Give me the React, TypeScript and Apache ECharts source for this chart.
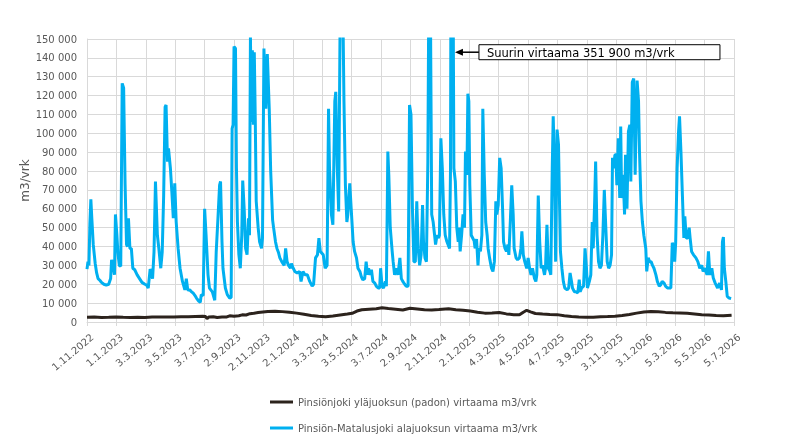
import React, { useEffect, useRef } from 'react';
import * as echarts from 'echarts';

// x values are days counted from 1.11.2022
const X_TICKS = ['1.11.2022', '1.1.2023', '3.3.2023', '3.5.2023', '3.7.2023', '2.9.2023', '2.11.2023', '2.1.2024', '3.3.2024', '3.5.2024', '3.7.2024', '2.9.2024', '2.11.2024', '2.1.2025', '4.3.2025', '4.5.2025', '4.7.2025', '3.9.2025', '3.11.2025', '3.1.2026', '5.3.2026', '5.5.2026', '5.7.2026'];
const X_STEP = 61;
const X_MAX = 1342;

const Y_MAX = 150000;
const Y_STEP = 10000;

const UPPER_NAME = 'Pinsiönjoki yläjuoksun (padon) virtaama m3/vrk';
const LOWER_NAME = 'Pinsiön-Matalusjoki alajuoksun virtaama m3/vrk';
const ANNOTATION = 'Suurin virtaama 351 900 m3/vrk';
const PEAK_DAY = 757;
const ARROW_LEVEL = 143000;

// [day, m3/vrk]
const upperFlow: [number, number][] = [
  [0, 2500], [15, 2600], [30, 2400], [45, 2500], [60, 2700], [75, 2500], [90, 2400], [105, 2500], [120, 2400], [135, 2600],
  [150, 2600], [165, 2700], [180, 2700], [195, 2800], [210, 2800], [225, 2900], [240, 3000], [246, 2900], [249, 1800], [253, 2700],
  [262, 2800], [270, 2400], [280, 2600], [290, 2700], [296, 3300], [305, 3000], [315, 3300], [322, 3800], [330, 3700], [338, 4400],
  [346, 4600], [355, 5000], [365, 5300], [375, 5600], [390, 5700], [405, 5500], [420, 5200], [435, 4700], [450, 4100], [465, 3500],
  [480, 3000], [495, 2800], [510, 3200], [525, 3700], [540, 4200], [550, 4600], [560, 5800], [570, 6500], [585, 6800], [600, 7000],
  [612, 7500], [625, 7100], [640, 6800], [655, 6400], [670, 7300], [685, 6900], [700, 6500], [715, 6400], [730, 6600], [750, 7000],
  [765, 6500], [780, 6200], [795, 5800], [810, 5200], [825, 4700], [840, 4800], [855, 5000], [870, 4300], [885, 3900], [897, 3800],
  [905, 5200], [912, 6200], [920, 5400], [930, 4500], [945, 4200], [960, 4000], [975, 3900], [990, 3300], [1005, 2900], [1020, 2600],
  [1035, 2500], [1050, 2500], [1065, 2800], [1080, 2900], [1095, 3100], [1110, 3500], [1125, 4000], [1140, 4700], [1155, 5300], [1170, 5600],
  [1185, 5400], [1200, 5100], [1215, 4900], [1230, 4800], [1245, 4600], [1260, 4300], [1275, 3900], [1290, 3700], [1305, 3400], [1320, 3300],
  [1337, 3600],
];

// [day, m3/vrk]
const lowerFlow: [number, number][] = [
  [0, 28000], [2, 32000], [4, 30000], [6, 52000], [8, 65000], [10, 55000], [13, 41000], [17, 31000], [20, 26000], [23, 23000],
  [27, 22000], [30, 21000], [35, 20000], [40, 19500], [45, 20000], [49, 23000], [51, 33000], [53, 30000], [55, 28500], [57, 25000],
  [59, 57000], [62, 46000], [64, 37000], [67, 30000], [70, 29500], [73, 126500], [76, 124000], [79, 73000], [82, 41000], [84, 40000],
  [86, 55000], [89, 39000], [92, 39000], [95, 28500], [99, 27700], [104, 25000], [109, 23000], [114, 21000], [120, 20000], [124, 19500],
  [127, 18000], [131, 28000], [133, 27000], [136, 23000], [139, 37000], [142, 74500], [146, 46000], [149, 39000], [153, 28500], [156, 37000],
  [159, 67000], [162, 114000], [164, 115000], [167, 85000], [169, 92000], [173, 81500], [176, 69000], [179, 55000], [182, 73500], [185, 53000],
  [189, 39000], [193, 28500], [198, 21500], [203, 17000], [206, 23000], [209, 17000], [213, 17000], [217, 16000], [220, 15400], [224, 14000],
  [227, 12700], [232, 11000], [235, 10500], [237, 14500], [241, 14000], [244, 60000], [247, 46000], [251, 25000], [254, 18000], [260, 16000],
  [265, 11500], [268, 37000], [272, 57000], [275, 72500], [277, 74500], [280, 42500], [282, 28500], [287, 18000], [291, 14500], [296, 12700],
  [299, 13000], [301, 102500], [303, 104500], [305, 146000], [308, 145000], [310, 81500], [312, 53000], [315, 35700], [318, 28500], [321, 46000],
  [323, 75000], [326, 60000], [329, 39000], [332, 35700], [335, 55000], [337, 46000], [339, 151000], [341, 106000], [343, 144000], [345, 104500],
  [347, 143000], [349, 108000], [351, 64000], [355, 50000], [358, 42500], [362, 39000], [364, 44500], [367, 145000], [371, 113000], [374, 142000],
  [378, 113000], [381, 80000], [385, 54000], [387, 50000], [391, 42500], [394, 39000], [397, 37000], [400, 34000], [404, 32000], [409, 30000],
  [412, 39000], [415, 32000], [418, 30000], [422, 28500], [424, 31000], [427, 29000], [431, 26800], [436, 26000], [441, 26800], [444, 21500],
  [448, 26800], [452, 25000], [457, 25000], [462, 21500], [467, 19000], [470, 20000], [474, 34000], [478, 35600], [481, 44500], [484, 37400],
  [490, 35600], [494, 28500], [498, 30000], [501, 113000], [503, 81500], [507, 57000], [510, 51500], [514, 117000], [516, 122000], [519, 83000],
  [522, 58600], [525, 160000], [528, 175000], [531, 160000], [533, 117000], [536, 72500], [539, 53000], [541, 57000], [545, 73500], [548, 60000],
  [552, 42500], [555, 37400], [559, 34000], [562, 28500], [566, 26800], [569, 24000], [572, 22400], [576, 23000], [579, 32000], [582, 25000],
  [584, 28500], [587, 25000], [590, 27700], [593, 21500], [597, 20600], [600, 19000], [604, 18000], [607, 18000], [609, 28500], [612, 19000],
  [615, 18000], [619, 21500], [621, 19000], [624, 90400], [626, 78000], [629, 50000], [633, 37400], [635, 32000], [638, 25000], [642, 28500],
  [645, 25000], [649, 34000], [652, 23000], [655, 21500], [659, 20000], [662, 19000], [666, 19000], [669, 115000], [672, 110000], [675, 60000],
  [678, 32000], [681, 32000], [684, 64000], [687, 39000], [690, 30000], [693, 35600], [696, 62000], [698, 42500], [701, 34000], [704, 32000],
  [707, 85000], [709, 175000], [711, 230000], [713, 140000], [715, 57000], [718, 53000], [721, 46000], [723, 41000], [726, 46000], [729, 44500],
  [731, 46000], [734, 97400], [737, 81500], [740, 57000], [743, 46000], [746, 43000], [749, 41000], [752, 39000], [754, 81500], [755, 200000],
  [757, 351900], [759, 200000], [761, 81500], [764, 74500], [767, 50000], [770, 42500], [772, 50000], [774, 37400], [777, 46000], [780, 57000],
  [783, 50000], [785, 90400], [788, 78000], [790, 121000], [792, 117000], [794, 72500], [797, 46000], [800, 44500], [803, 43000], [805, 39000],
  [808, 44000], [811, 30000], [813, 39000], [816, 37400], [819, 46000], [821, 113000], [824, 78000], [827, 53000], [830, 46000], [832, 39000],
  [835, 34000], [839, 28500], [842, 26800], [845, 32000], [848, 64000], [850, 57000], [853, 62000], [856, 87000], [859, 81500], [862, 60000],
  [864, 42500], [867, 39000], [870, 37400], [873, 41000], [875, 35600], [878, 53000], [881, 72500], [884, 57000], [886, 39000], [890, 34000],
  [893, 33000], [897, 34000], [900, 39000], [902, 48000], [905, 35600], [908, 32000], [912, 28500], [915, 34000], [918, 28500], [921, 25000],
  [924, 28500], [928, 23300], [931, 21500], [933, 25000], [936, 67000], [939, 42500], [942, 28500], [945, 30000], [949, 25000], [951, 28500],
  [954, 51500], [957, 28500], [960, 27000], [962, 25000], [965, 81500], [967, 109000], [970, 78000], [972, 32000], [975, 102000], [978, 94000],
  [980, 64000], [982, 37400], [985, 28500], [988, 21500], [991, 18000], [996, 17000], [999, 18000], [1002, 26000], [1005, 21500], [1007, 18000],
  [1011, 16000], [1014, 16000], [1018, 15400], [1021, 22400], [1023, 16000], [1026, 18000], [1030, 19000], [1033, 39000], [1036, 28500], [1038, 18000],
  [1042, 21500], [1045, 25000], [1048, 53000], [1050, 39000], [1053, 64000], [1055, 85000], [1058, 46000], [1061, 32000], [1064, 28500], [1067, 30000],
  [1070, 46000], [1073, 70000], [1075, 57000], [1079, 32000], [1082, 28500], [1085, 30000], [1088, 35600], [1090, 87000], [1092, 81500], [1095, 88600],
  [1097, 88600], [1099, 72500], [1102, 97400], [1105, 65700], [1107, 103600], [1109, 65700], [1112, 78000], [1115, 57000], [1117, 88600], [1120, 60000],
  [1123, 101000], [1126, 104500], [1128, 74500], [1131, 127000], [1134, 129000], [1137, 78000], [1139, 106000], [1141, 128000], [1144, 117000], [1146, 90000],
  [1149, 64000], [1152, 53000], [1155, 46000], [1159, 39000], [1161, 26800], [1164, 34000], [1167, 32000], [1170, 32000], [1173, 30000], [1176, 28500],
  [1180, 25000], [1183, 21500], [1187, 19000], [1190, 19700], [1193, 21500], [1197, 20600], [1200, 19000], [1204, 18000], [1211, 18000], [1214, 42000],
  [1217, 40000], [1219, 32000], [1221, 42000], [1224, 81500], [1227, 101000], [1229, 109000], [1232, 90000], [1235, 67000], [1238, 44500], [1240, 56000],
  [1243, 44500], [1246, 44500], [1249, 50000], [1251, 44500], [1254, 37400], [1258, 35600], [1263, 34000], [1267, 32000], [1271, 28500], [1275, 30000],
  [1278, 26800], [1282, 28500], [1286, 25000], [1289, 37400], [1292, 25000], [1296, 28500], [1299, 23300], [1303, 20600], [1308, 18000], [1312, 20600],
  [1316, 17000], [1318, 42500], [1320, 45000], [1322, 28500], [1325, 21500], [1328, 13600], [1332, 12700], [1336, 12400],
];

const FONT = '"DejaVu Sans", Verdana, sans-serif';
const GRID_COLOR = '#d9d9d9';
const TEXT_COLOR = '#595959';
const LABEL_ANGLE = 40;

const fmtThousands = (v: number) => String(v).replace(/\B(?=(\d{3})+(?!\d))/g, ' ');

export default function App() {
  const ref = useRef<HTMLDivElement>(null);

  useEffect(() => {
    if (!ref.current) return;
    const chart = echarts.init(ref.current, null, { renderer: 'svg' });
    chart.setOption({
      animation: false,
      textStyle: { fontFamily: FONT },
      grid: { left: 87, right: 67, top: 39, bottom: 123 },
      legend: {
        orient: 'vertical',
        left: 270,
        top: 397,
        padding: 0,
        itemGap: 16,
        itemWidth: 23,
        itemHeight: 3,
        icon: 'rect',
        textStyle: { color: TEXT_COLOR, fontSize: 10, fontFamily: FONT },
        data: [UPPER_NAME, LOWER_NAME],
      },
      xAxis: {
        type: 'value',
        min: 0,
        max: X_MAX,
        interval: X_STEP,
        axisLine: { show: true, lineStyle: { color: GRID_COLOR } },
        axisTick: { show: true, length: 4, lineStyle: { color: GRID_COLOR } },
        splitLine: { show: true, lineStyle: { color: GRID_COLOR, width: 1 } },
        axisLabel: { show: false },
      },
      yAxis: {
        type: 'value',
        min: 0,
        max: Y_MAX,
        interval: Y_STEP,
        name: 'm3/vrk',
        nameLocation: 'middle',
        nameGap: 56,
        nameMoveOverlap: false,
        nameTextStyle: { color: TEXT_COLOR, fontSize: 12, fontFamily: FONT },
        axisLine: { show: true, lineStyle: { color: GRID_COLOR } },
        axisTick: { show: false },
        splitLine: { show: true, lineStyle: { color: GRID_COLOR, width: 1 } },
        axisLabel: {
          color: TEXT_COLOR,
          fontSize: 10,
          margin: 10,
          fontFamily: FONT,
          formatter: (v: number) => fmtThousands(v),
        },
      },
      series: [
        {
          name: UPPER_NAME,
          type: 'line',
          data: upperFlow,
          showSymbol: false,
          symbol: 'none',
          color: '#2c231d',
          lineStyle: { color: '#2c231d', width: 3 },
          clip: true,
        },
        {
          name: LOWER_NAME,
          type: 'line',
          data: lowerFlow,
          showSymbol: false,
          symbol: 'none',
          color: '#00b0f0',
          lineStyle: { color: '#00b0f0', width: 3 },
          clip: true,
        },
      ],
    });

    const zeroY = chart.convertToPixel({ yAxisIndex: 0 }, 0) as number;
    const tickLabels = X_TICKS.map((label, i) => {
      const x = chart.convertToPixel({ xAxisIndex: 0 }, i * X_STEP) as number;
      return {
        type: 'text',
        x: x + 2,
        y: zeroY + 10,
        rotation: (LABEL_ANGLE * Math.PI) / 180,
        silent: true,
        style: {
          text: label,
          fill: TEXT_COLOR,
          fontSize: 10,
          fontFamily: FONT,
          align: 'right',
          verticalAlign: 'top',
        },
      };
    });

    const tip = chart.convertToPixel({ xAxisIndex: 0, yAxisIndex: 0 }, [PEAK_DAY, ARROW_LEVEL]) as number[];
    const tipX = tip[0] + 3;
    const tipY = tip[1];
    const boxLeft = tipX + 24;
    chart.setOption({
      graphic: [
        ...tickLabels,
        {
          type: 'line',
          shape: { x1: tipX + 6, y1: tipY, x2: boxLeft, y2: tipY },
          style: { stroke: '#000', lineWidth: 1.5 },
          z: 100,
        },
        {
          type: 'polygon',
          shape: { points: [[tipX, tipY], [tipX + 8, tipY - 3.5], [tipX + 8, tipY + 3.5]] },
          style: { fill: '#000' },
          z: 100,
        },
        {
          type: 'rect',
          shape: { x: boxLeft, y: tipY - 7.5, width: 241, height: 15 },
          style: { fill: '#fff', stroke: '#000', lineWidth: 1 },
          z: 100,
        },
        {
          type: 'text',
          x: boxLeft + 8,
          y: tipY + 0.5,
          style: {
            text: ANNOTATION,
            fill: '#000',
            fontSize: 11.5,
            fontFamily: FONT,
            verticalAlign: 'middle',
            align: 'left',
          },
          z: 101,
        },
      ],
    });

    return () => chart.dispose();
  }, []);

  return <div ref={ref} style={{ position: 'fixed', left: 0, top: 0, width: 801, height: 445 }} />;
}
